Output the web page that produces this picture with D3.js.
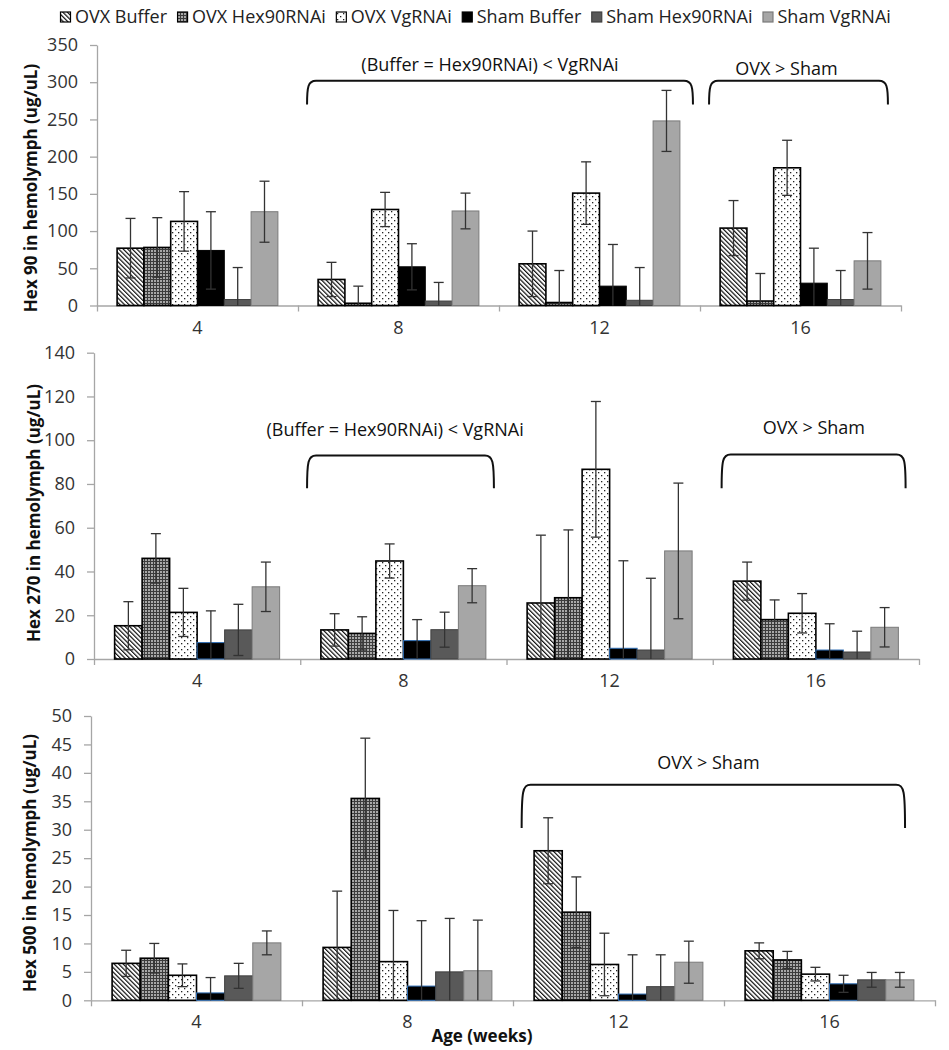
<!DOCTYPE html>
<html>
<head>
<meta charset="utf-8">
<script src="https://cdn.jsdelivr.net/npm/d3@7"></script>
<style>
  html, body { margin: 0; padding: 0; background: #fff; }
  svg { display: block; }
  text { font-family: "Open Sans", "Noto Sans", sans-serif; }
</style>
</head>
<body>
<svg id="chart" width="949" height="1050"></svg>
<script>
// ---------------- DATA ----------------
const categories = ["4", "8", "12", "16"];
const seriesNames = ["OVX Buffer", "OVX Hex90RNAi", "OVX VgRNAi", "Sham Buffer", "Sham Hex90RNAi", "Sham VgRNAi"];

// Hex 90: mean per age group (series in order of seriesNames)
const hex90Mean = [
  [77, 78, 113, 74, 8, 126],
  [35, 3, 129, 52, 6, 127],
  [56, 4, 151, 26, 7, 248],
  [104, 6, 185, 30, 8, 60]
];
const hex90Err = [
  [40, 40, 40, 52, 43, 41],
  [23, 23, 23, 31, 25, 24],
  [44, 43, 42, 56, 44, 41],
  [37, 37, 37, 47, 39, 38]
];
const hex90Ticks = [0, 50, 100, 150, 200, 250, 300, 350];

// Hex 270
const hex270Mean = [
  [15.2, 46, 21.3, 7.5, 13.3, 33],
  [13.3, 11.7, 44.8, 8.4, 13.4, 33.5],
  [25.6, 28, 86.7, 4.9, 4.1, 49.4],
  [35.6, 18, 20.9, 4.1, 3.2, 14.5]
];
const hex270Err = [
  [11, 11.3, 11, 14.5, 11.7, 11.3],
  [7.4, 7.6, 7.8, 9.6, 8, 7.8],
  [31, 31, 31, 40, 32.8, 31],
  [8.7, 9, 9, 12, 9.5, 9]
];
const hex270Ticks = [0, 20, 40, 60, 80, 100, 120, 140];

// Hex 500
const hex500Mean = [
  [6.5, 7.4, 4.4, 1.3, 4.3, 10.1],
  [9.3, 35.5, 6.8, 2.5, 5.0, 5.2],
  [26.3, 15.5, 6.3, 1.1, 2.4, 6.7],
  [8.7, 7.1, 4.6, 2.9, 3.6, 3.6]
];
const hex500Err = [
  [2.3, 2.6, 2.0, 2.7, 2.2, 2.1],
  [9.9, 10.6, 9.0, 11.5, 9.4, 8.9],
  [5.8, 6.2, 5.5, 6.9, 5.6, 3.7],
  [1.4, 1.5, 1.2, 1.5, 1.3, 1.3]
];
const hex500Ticks = [0, 5, 10, 15, 20, 25, 30, 35, 40, 45, 50];

const yLabels = ["Hex 90 in hemolymph (ug/uL)", "Hex 270 in hemolymph (ug/uL)", "Hex 500 in hemolymph (ug/uL)"];
const xTitle = "Age (weeks)";

// significance annotations (category units, value units)
const hex90Notes = [
  { label: "(Buffer = Hex90RNAi) < VgRNAi", from: 1.045, to: 2.965, top: 302, bottom: 270, tx: 1.955, ty: 323 },
  { label: "OVX > Sham", from: 3.045, to: 3.935, top: 302, bottom: 270, tx: 3.43, ty: 318 }
];
const hex270Notes = [
  { label: "(Buffer = Hex90RNAi) < VgRNAi", from: 1.033, to: 1.939, top: 93, bottom: 78, tx: 1.46, ty: 105 },
  { label: "OVX > Sham", from: 3.043, to: 3.935, top: 93.5, bottom: 78, tx: 3.49, ty: 105.5 }
];
const hex500Notes = [
  { label: "OVX > Sham", from: 2.041, to: 3.858, top: 37.9, bottom: 30.3, tx: 2.926, ty: 41.8 }
];

// ---------------- STYLES ----------------
const svg = d3.select("#chart");
const defs = svg.append("defs");

// diagonal hatch "\\"
const ph = defs.append("pattern").attr("id", "pHatch").attr("patternUnits", "userSpaceOnUse")
  .attr("width", 3.2).attr("height", 3.2).attr("patternTransform", "rotate(-45)");
ph.append("rect").attr("width", 3.2).attr("height", 3.2).attr("fill", "#fff");
ph.append("rect").attr("x", 0).attr("y", 0).attr("width", 1.2).attr("height", 3.2).attr("fill", "#111");

// dark grid
const pg = defs.append("pattern").attr("id", "pGrid").attr("patternUnits", "userSpaceOnUse")
  .attr("width", 3).attr("height", 3);
pg.append("rect").attr("width", 3).attr("height", 3).attr("fill", "#a8a8a8");
pg.append("rect").attr("width", 3).attr("height", 1).attr("fill", "#3c3c3c");
pg.append("rect").attr("width", 1).attr("height", 3).attr("fill", "#3c3c3c");

// dots
const pd = defs.append("pattern").attr("id", "pDots").attr("patternUnits", "userSpaceOnUse")
  .attr("width", 6).attr("height", 6);
pd.append("rect").attr("width", 6).attr("height", 6).attr("fill", "#fff");
pd.append("rect").attr("x", 1).attr("y", 1).attr("width", 1.3).attr("height", 1.3).attr("fill", "#222");
pd.append("rect").attr("x", 4).attr("y", 4).attr("width", 1.3).attr("height", 1.3).attr("fill", "#222");

const seriesFill = ["url(#pHatch)", "url(#pGrid)", "url(#pDots)", "#000", "#595959", "#a6a6a6"];
const seriesStroke = ["#000", "#000", "#000", "#000", "#404040", "#7a7a7a"];
const seriesStrokeW = [1.6, 1.6, 1.6, 1, 1, 1];

// ---------------- LEGEND ----------------
const legend = svg.append("g");
let lx = 60;
seriesNames.forEach((name, i) => {
  legend.append("rect").attr("x", lx + 0.5).attr("y", 12).attr("width", 10).attr("height", 10)
    .attr("fill", seriesFill[i]).attr("stroke", seriesStroke[i]).attr("stroke-width", 1.2);
  const t = legend.append("text").attr("x", lx + 15).attr("y", 23.3)
    .attr("font-size", 18).attr("fill", "#222").text(name);
  lx += 15 + t.node().getComputedTextLength() + 10;
});

// ---------------- PANELS ----------------
const panels = [
  { mean: hex90Mean, err: hex90Err, ticks: hex90Ticks, notes: hex90Notes, label: yLabels[0],
    xr: [97, 901], yr: [305.5, 45], labelX: 31, labelY: 188, sham: "#000" },
  { mean: hex270Mean, err: hex270Err, ticks: hex270Ticks, notes: hex270Notes, label: yLabels[1],
    xr: [94, 919], yr: [659, 352.7], labelX: 34, labelY: 513, sham: "#2e6db4" },
  { mean: hex500Mean, err: hex500Err, ticks: hex500Ticks, notes: hex500Notes, label: yLabels[2],
    xr: [91, 935], yr: [1000.3, 716], labelX: 30, labelY: 863, sham: "#2e6db4" }
];

panels.forEach((p, pi) => {
  const g = svg.append("g");
  const x0 = d3.scaleBand().domain(categories).range(p.xr).padding(0);
  const x1 = d3.scaleBand().domain(seriesNames).range([0, x0.bandwidth()]).paddingInner(0).paddingOuter(0.75);
  const y = d3.scaleLinear().domain([0, d3.max(p.ticks)]).range(p.yr);
  const catLin = d3.scaleLinear().domain([0, categories.length]).range(p.xr);

  // y axis
  const ya = g.append("g").attr("transform", `translate(${p.xr[0]},0)`)
    .call(d3.axisLeft(y).tickValues(p.ticks).tickSize(7).tickSizeOuter(0).tickPadding(12));
  ya.select(".domain").attr("stroke", "#a6a6a6").attr("stroke-width", 1.3);
  ya.selectAll(".tick line").attr("stroke", "#a6a6a6").attr("stroke-width", 1.3);
  ya.selectAll(".tick text").attr("font-family", "Open Sans").attr("font-size", 18).attr("fill", "#333");

  // x axis
  const xa = g.append("g").attr("transform", `translate(0,${p.yr[0]})`)
    .call(d3.axisBottom(catLin).tickValues(d3.range(categories.length + 1)).tickSize(6).tickSizeOuter(0).tickFormat(""));
  xa.select(".domain").attr("stroke", "#a6a6a6").attr("stroke-width", 1.3);
  xa.selectAll(".tick line").attr("stroke", "#a6a6a6").attr("stroke-width", 1.3);
  g.selectAll(".catlab").data(categories).join("text")
    .attr("x", d => x0(d) + x0.bandwidth() / 2).attr("y", p.yr[0] + 28)
    .attr("text-anchor", "middle").attr("font-size", 18).attr("fill", "#333").text(d => d);

  // bars
  const rows = [];
  categories.forEach((c, ci) => seriesNames.forEach((s, si) => rows.push({ c, s, si, v: p.mean[ci][si], e: p.err[ci][si] })));
  g.selectAll(".bar").data(rows).join("rect")
    .attr("x", d => x0(d.c) + x1(d.s))
    .attr("y", d => y(d.v))
    .attr("width", x1.bandwidth())
    .attr("height", d => y(0) - y(d.v))
    .attr("fill", d => seriesFill[d.si])
    .attr("stroke", d => d.si === 3 ? p.sham : seriesStroke[d.si])
    .attr("stroke-width", d => seriesStrokeW[d.si]);

  // error bars
  const eb = g.selectAll(".err").data(rows).join("g");
  const cx = d => x0(d.c) + x1(d.s) + x1.bandwidth() / 2;
  eb.append("line").attr("x1", cx).attr("x2", cx)
    .attr("y1", d => y(d.v + d.e)).attr("y2", d => y(Math.max(0, d.v - d.e)))
    .attr("stroke", "#333").attr("stroke-width", 1.3);
  eb.append("line").attr("x1", d => cx(d) - 5).attr("x2", d => cx(d) + 5)
    .attr("y1", d => y(d.v + d.e)).attr("y2", d => y(d.v + d.e))
    .attr("stroke", "#333").attr("stroke-width", 1.3);
  eb.filter(d => d.v - d.e > 0).append("line").attr("x1", d => cx(d) - 5).attr("x2", d => cx(d) + 5)
    .attr("y1", d => y(d.v - d.e)).attr("y2", d => y(d.v - d.e))
    .attr("stroke", "#333").attr("stroke-width", 1.3);

  // annotations (brackets)
  p.notes.forEach(n => {
    const xa1 = catLin(n.from), xa2 = catLin(n.to), yt = y(n.top), yb = y(n.bottom);
    const path = d3.path();
    path.moveTo(xa1, yb);
    path.bezierCurveTo(xa1, yt + 6, xa1 + 1, yt, xa1 + 9, yt);
    path.lineTo(xa2 - 9, yt);
    path.bezierCurveTo(xa2 - 1, yt, xa2, yt + 6, xa2, yb);
    g.append("path").attr("d", path.toString()).attr("fill", "none").attr("stroke", "#111").attr("stroke-width", 2);
    g.append("text").attr("x", catLin(n.tx)).attr("y", y(n.ty)).attr("dy", "0.35em")
      .attr("text-anchor", "middle").attr("font-size", 18).attr("fill", "#111").text(n.label);
  });

  // y label
  g.append("text").attr("transform", `translate(${p.labelX},${p.labelY}) rotate(-90)`)
    .attr("text-anchor", "middle").attr("dy", "0.35em")
    .attr("font-size", 17).attr("font-weight", "bold").attr("fill", "#111").text(p.label);
});

// x title
svg.append("text").attr("x", 482).attr("y", 1042).attr("text-anchor", "middle")
  .attr("font-size", 17).attr("font-weight", "bold").attr("fill", "#111").text(xTitle);
</script>
</body>
</html>
